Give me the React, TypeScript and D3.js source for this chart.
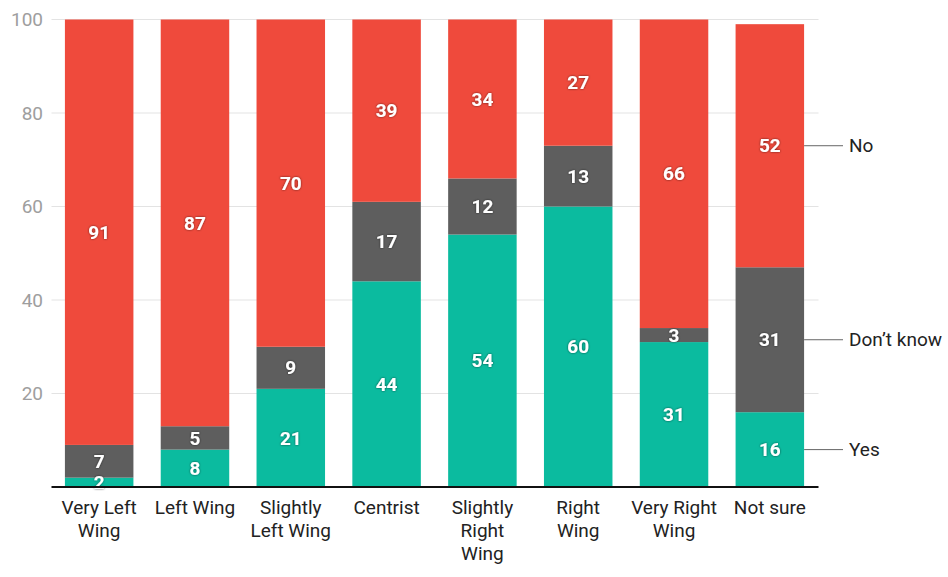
import { useEffect, useRef } from 'react'
import * as d3 from 'd3'

// Data
const categories = [
	'Very Left\nWing',
	'Left Wing',
	'Slightly\nLeft Wing',
	'Centrist',
	'Slightly\nRight\nWing',
	'Right\nWing',
	'Very Right\nWing',
	'Not sure',
]
const yesValues = [2, 8, 21, 44, 54, 60, 31, 16]
const dontKnowValues = [7, 5, 9, 17, 12, 13, 3, 31]
const noValues = [91, 87, 70, 39, 34, 27, 66, 52]
const seriesNames = ['Yes', 'Don\u2019t know', 'No']
const seriesColors = ['#0bbb9f', '#5e5e5e', '#ef4a3c']
const yTicks = [20, 40, 60, 80, 100]

const App = () => {
	const svgRef = useRef(null)

	useEffect(() => {
		const width = 948
		const height = 577
		const margin = { top: 19.5, right: 130.5, bottom: 90, left: 51.5 }

		const svg = d3.select(svgRef.current)
		svg.selectAll('*').remove()
		svg.attr('width', width).attr('height', height)

		const rows = categories.map((c, i) => ({
			category: c,
			Yes: yesValues[i],
			'Don\u2019t know': dontKnowValues[i],
			No: noValues[i],
		}))

		const x = d3
			.scaleBand()
			.domain(categories)
			.range([margin.left, width - margin.right])
			.paddingInner(0.285)
			.paddingOuter(0.14)

		const y = d3
			.scaleLinear()
			.domain([0, 100])
			.range([height - margin.bottom, margin.top])

		const stack = d3.stack().keys(seriesNames)
		const layers = stack(rows)

		// Gridlines
		svg
			.append('g')
			.selectAll('line')
			.data(yTicks)
			.join('line')
			.attr('x1', margin.left)
			.attr('x2', width - margin.right + 1)
			.attr('y1', (d) => y(d))
			.attr('y2', (d) => y(d))
			.attr('stroke', '#e3e3e3')
			.attr('stroke-width', 1)

		// Y tick labels
		svg
			.append('g')
			.selectAll('text')
			.data(yTicks)
			.join('text')
			.attr('x', 43)
			.attr('y', (d) => y(d))
			.attr('dy', '0.35em')
			.attr('text-anchor', 'end')
			.attr('font-family', 'Roboto')
			.attr('font-size', 19)
			.attr('fill', '#9e9e9e')
			.text((d) => d)

		// Bars
		const layerG = svg
			.append('g')
			.selectAll('g')
			.data(layers)
			.join('g')
			.attr('fill', (d, i) => seriesColors[i])

		layerG
			.selectAll('rect')
			.data((d) => d)
			.join('rect')
			.attr('x', (d) => x(d.data.category))
			.attr('y', (d) => y(d[1]))
			.attr('width', x.bandwidth())
			.attr('height', (d) => y(d[0]) - y(d[1]))

		// Value labels
		const defs = svg.append('defs')
		const filter = defs.append('filter').attr('id', 'lblShadow')
		filter
			.append('feDropShadow')
			.attr('dx', 0)
			.attr('dy', 0)
			.attr('stdDeviation', 1)
			.attr('flood-color', '#000')
			.attr('flood-opacity', 0.6)

		svg
			.append('g')
			.selectAll('g')
			.data(layers)
			.join('g')
			.selectAll('text')
			.data((d) => d)
			.join('text')
			.attr('x', (d) => x(d.data.category) + x.bandwidth() / 2)
			.attr('y', (d) => y((d[0] + d[1]) / 2))
			.attr('dy', '0.35em')
			.attr('text-anchor', 'middle')
			.attr('font-family', 'Roboto')
			.attr('font-weight', 'bold')
			.attr('font-size', 19)
			.attr('fill', '#fff')
			.attr('filter', 'url(#lblShadow)')
			.text((d) => d[1] - d[0])

		// Baseline
		svg
			.append('line')
			.attr('x1', margin.left)
			.attr('x2', width - margin.right + 1)
			.attr('y1', y(0))
			.attr('y2', y(0))
			.attr('stroke', '#111')
			.attr('stroke-width', 2)

		// Category labels
		svg
			.append('g')
			.selectAll('text')
			.data(categories)
			.join('text')
			.attr('x', (d) => x(d) + x.bandwidth() / 2)
			.attr('y', y(0) + 27)
			.attr('text-anchor', 'middle')
			.attr('font-family', 'Roboto')
			.attr('font-size', 19)
			.attr('fill', '#222')
			.each(function (d) {
				const t = d3.select(this)
				d.split('\n').forEach((line, i) => {
					t.append('tspan')
						.attr('x', x(d) + x.bandwidth() / 2)
						.attr('dy', i === 0 ? 0 : 23)
						.text(line)
				})
			})

		// Series labels on the right, aligned with the last bar
		const last = categories.length - 1
		const lastRight = x(categories[last]) + x.bandwidth()
		const legendG = svg
			.append('g')
			.selectAll('g')
			.data(layers)
			.join('g')
			.attr('transform', (d) => `translate(0,${y((d[last][0] + d[last][1]) / 2)})`)

		legendG
			.append('line')
			.attr('x1', lastRight)
			.attr('x2', 843)
			.attr('stroke', '#666')
			.attr('stroke-width', 1)

		legendG
			.append('text')
			.attr('x', 849)
			.attr('dy', '0.35em')
			.attr('font-family', 'Roboto')
			.attr('font-size', 19)
			.attr('fill', '#222')
			.text((d) => d.key)
	}, [])

	return <svg ref={svgRef} style={{ position: 'absolute', left: 0, top: 0, display: 'block' }}></svg>
}

export default App
